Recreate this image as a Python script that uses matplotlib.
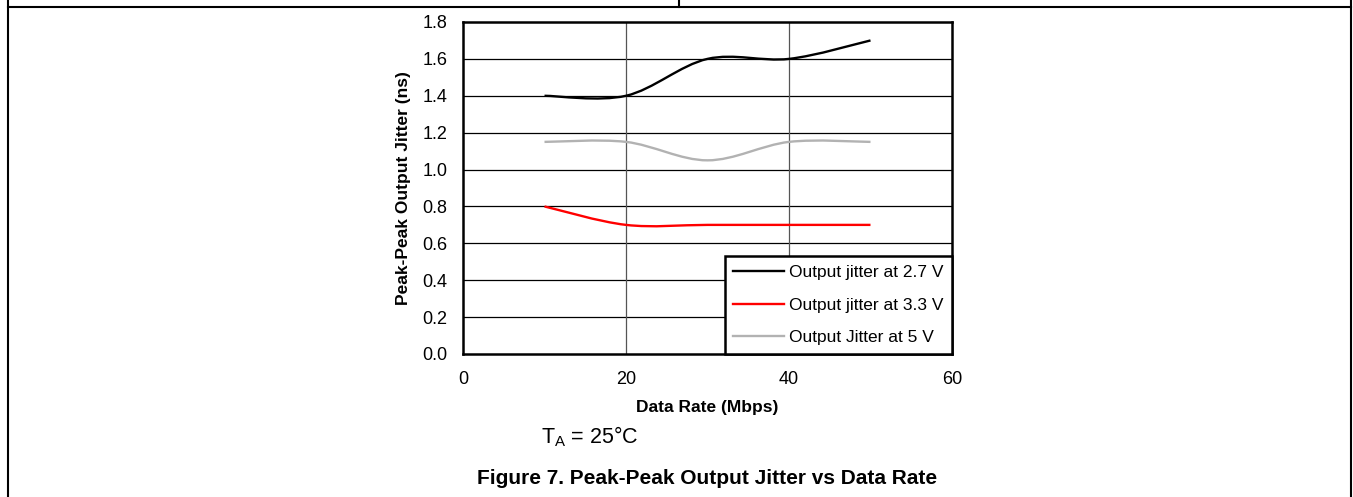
import numpy as np
import matplotlib
matplotlib.use("Agg")
import matplotlib.pyplot as plt
from matplotlib.path import Path
from matplotlib.patches import PathPatch
from matplotlib.lines import Line2D

plt.rcParams['font.family'] = ['Liberation Sans', 'DejaVu Sans']

# ---- data ----
data_rate = [10, 20, 30, 40, 50]
jitter_27 = [1.40, 1.40, 1.60, 1.60, 1.70]
jitter_33 = [0.80, 0.70, 0.70, 0.70, 0.70]
jitter_50 = [1.15, 1.15, 1.05, 1.15, 1.15]
series_labels = ["Output jitter at 2.7 V", "Output jitter at 3.3 V", "Output Jitter at 5 V"]
series_colors = ["#000000", "#ff0000", "#b2b2b2"]
x_ticks = [0, 20, 40, 60]
y_ticks = [0.0, 0.2, 0.4, 0.6, 0.8, 1.0, 1.2, 1.4, 1.6, 1.8]

W, H = 1353, 497
fig = plt.figure(figsize=(W / 100, H / 100), dpi=100)
ax = fig.add_axes([463 / W, 1 - 354 / H, (952 - 463) / W, (354 - 22) / H])


def smooth_path(xs, ys):
    """Excel-style smoothed line as cubic Bezier segments through the data points."""
    P = np.column_stack([xs, ys]).astype(float)
    n = len(P)
    verts = [tuple(P[0])]
    codes = [Path.MOVETO]
    for i in range(n - 1):
        p0 = P[i - 1] if i > 0 else P[i]
        p1, p2 = P[i], P[i + 1]
        p3 = P[i + 2] if i + 2 < n else P[i + 1]
        c1 = p1 + (p2 - p0) / 6.0
        c2 = p2 - (p3 - p1) / 6.0
        verts += [tuple(c1), tuple(c2), tuple(p2)]
        codes += [Path.CURVE4] * 3
    return Path(verts, codes)


for ys, col in zip([jitter_27, jitter_33, jitter_50], series_colors):
    ax.add_patch(PathPatch(smooth_path(data_rate, ys), facecolor='none',
                           edgecolor=col, lw=1.7, zorder=3, capstyle='butt'))

ax.set_xlim(0, 60)
ax.set_ylim(0, 1.8)
ax.set_xticks(x_ticks)
ax.set_yticks(y_ticks)
ax.set_yticklabels([f"{v:.1f}" for v in y_ticks])
ax.tick_params(length=0, labelsize=13)
ax.tick_params(axis='y', pad=11)
ax.tick_params(axis='x', pad=12)
for s in ax.spines.values():
    s.set_linewidth(1.8)
    s.set_color('black')

for yv in y_ticks[1:-1]:
    ax.axhline(yv, color='black', lw=0.9, zorder=1)
for xv in x_ticks[1:-1]:
    ax.axvline(xv, color='#555555', lw=0.9, zorder=1)

ax.set_xlabel("Data Rate (Mbps)", fontsize=12.5, fontweight='bold', labelpad=9)
ax.set_ylabel("Peak-Peak Output Jitter (ns)", fontsize=12.5, fontweight='bold', labelpad=8)

handles = [Line2D([], [], color=c, lw=1.7) for c in series_colors]
leg = ax.legend(handles, series_labels, loc='lower right', bbox_to_anchor=(1, 0),
                borderaxespad=0, fancybox=False, framealpha=1, edgecolor='black',
                fontsize=12.5, handlelength=2.9, handletextpad=0.3, labelspacing=1.0,
                borderpad=0.5, handleheight=0.7)
leg.get_frame().set_linewidth(1.8)
leg.set_zorder(5)

fig.text(541 / W, 1 - 437 / H, r"T$_\mathregular{A}$ = 25°C", fontsize=15.5,
         ha='left', va='center')
fig.text(707 / W, 1 - 479 / H, "Figure 7. Peak-Peak Output Jitter vs Data Rate",
         fontsize=15, fontweight='bold', ha='center', va='center')

# page border lines
def pline(x0, y0, x1, y1):
    fig.add_artist(Line2D([x0 / W, x1 / W], [1 - y0 / H, 1 - y1 / H],
                          color='black', lw=1.5, transform=fig.transFigure))

pline(8, 7, 1351, 7)
pline(8, 0, 8, H)
pline(1351, 0, 1351, H)
pline(679, 0, 679, 7)

fig.savefig("out.png", dpi=100)
